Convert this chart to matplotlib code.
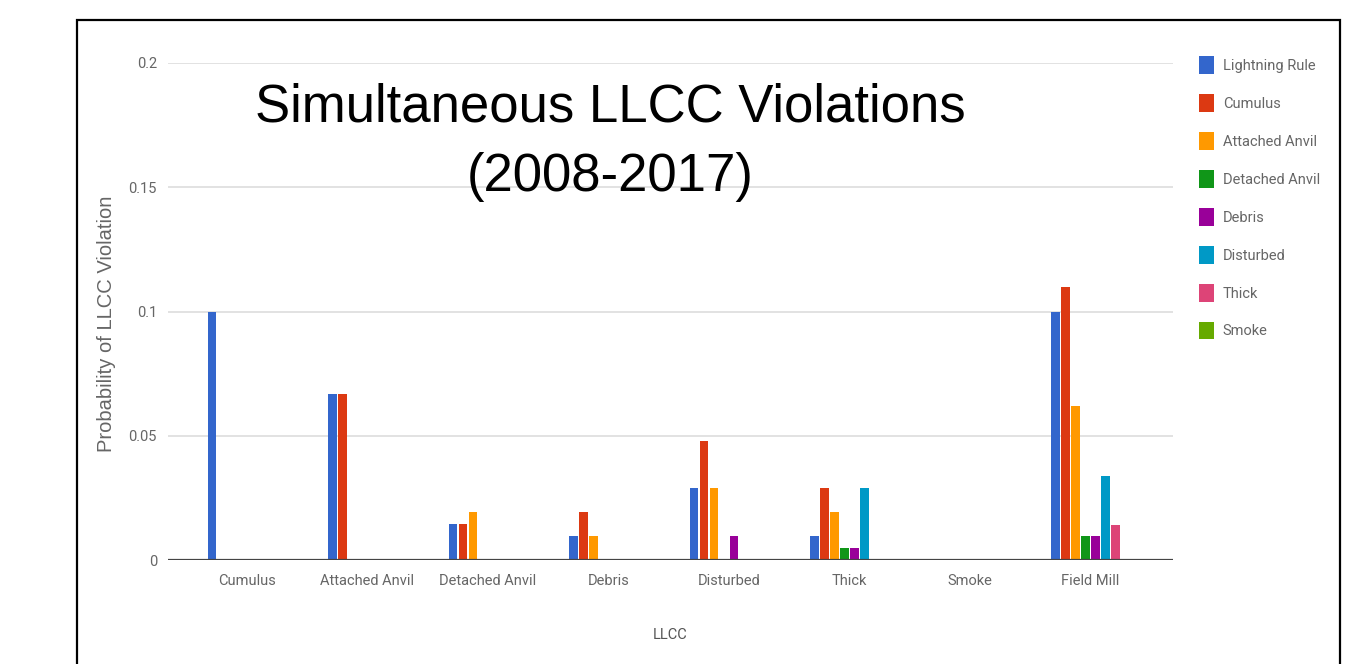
import numpy as np
import matplotlib
matplotlib.use("Agg")
import matplotlib.pyplot as plt
from matplotlib.patches import Rectangle

# LLCC categories on the x axis
llcc = ["Cumulus", "Attached Anvil", "Detached Anvil", "Debris",
        "Disturbed", "Thick", "Smoke", "Field Mill"]

# one series per simultaneous violation type
series_names = ["Lightning Rule", "Cumulus", "Attached Anvil", "Detached Anvil",
                "Debris", "Disturbed", "Thick", "Smoke"]
lightning_rule = [0.100, 0.067, 0.0145, 0.0096, 0.029, 0.0096, 0, 0.100]
cumulus        = [0,     0.067, 0.0145, 0.0193, 0.048, 0.029,  0, 0.110]
attached_anvil = [0,     0,     0.0193, 0.0096, 0.029, 0.0193, 0, 0.062]
detached_anvil = [0,     0,     0,      0,      0,     0.0048, 0, 0.0096]
debris         = [0,     0,     0,      0,      0.0096, 0.0048, 0, 0.0096]
disturbed      = [0,     0,     0,      0,      0,     0.029,  0, 0.034]
thick          = [0,     0,     0,      0,      0,     0,      0, 0.0142]
smoke          = [0,     0,     0,      0,      0,     0,      0, 0]

colors = ["#3366cc", "#dc3912", "#ff9900", "#109618",
          "#990099", "#0099c6", "#dd4477", "#66aa00"]
yticks = [0, 0.05, 0.1, 0.15, 0.2]
ytick_labels = ["0", "0.05", "0.1", "0.15", "0.2"]

all_series = [lightning_rule, cumulus, attached_anvil, detached_anvil,
              debris, disturbed, thick, smoke]

fig = plt.figure(figsize=(13.65, 6.64), dpi=100)
ax = fig.add_axes([168 / 1365, 1 - 560 / 664, (1173 - 168) / 1365, (560 - 63) / 664])

x = np.arange(len(llcc))
pitch = 10 / 120.5
handles = []
for j, vals in enumerate(all_series):
    b = ax.bar(x + (j - 3.5) * pitch, vals, width=pitch * 0.85,
               color=colors[j], label=series_names[j], zorder=3)
    handles.append(b)

ax.set_xlim((168 - 247) / 120.5, (1173 - 247) / 120.5)
ax.set_ylim(0, 0.2)
ax.set_yticks(yticks)
ax.set_yticklabels(ytick_labels)
ax.set_xticks(x)
ax.set_xticklabels(llcc)
ax.grid(axis="y", color="#dddddd", lw=1.2, zorder=0)
ax.axhline(0, color="#444444", lw=1.6, zorder=4)
for s in ax.spines.values():
    s.set_visible(False)
ax.tick_params(length=0, colors="#666666", labelsize=10.5)
ax.tick_params(axis="x", pad=10)
ax.tick_params(axis="y", pad=8)
for t in ax.get_xticklabels() + ax.get_yticklabels():
    t.set_family("Roboto")

ax.set_xlabel("LLCC", family="Roboto", fontsize=10.5, color="#555555", labelpad=29)
fig.text(107 / 1365, 1 - 324 / 664, "Probability of LLCC Violation", rotation=90,
         ha="center", va="center", family="Liberation Sans", fontsize=14.5,
         color="#666666")

fig.text(610 / 1365, 1 - 142 / 664, "Simultaneous LLCC Violations\n(2008-2017)",
         ha="center", va="center", family="Liberation Sans", fontsize=38,
         linespacing=1.5, color="black")

leg = fig.legend(handles=handles, loc="upper left",
                 bbox_to_anchor=(1192 / 1365, 1 - 49 / 664), frameon=False,
                 borderpad=0, handlelength=1.0, handleheight=1.5,
                 handletextpad=0.6, labelspacing=1.38,
                 prop={"family": "Roboto", "size": 10.5})
for t in leg.get_texts():
    t.set_color("#666666")

# black frame round the whole chart
fig.patches.append(Rectangle((77 / 1365, -0.05), (1340 - 77) / 1365, 1.05 - 20 / 664,
                             transform=fig.transFigure, fill=False,
                             edgecolor="black", lw=1.6))

fig.savefig("out.png", dpi=100)
